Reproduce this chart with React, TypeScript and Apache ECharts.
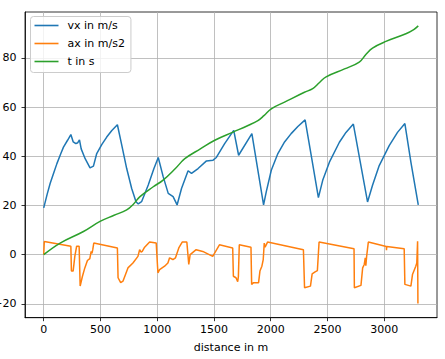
import React, { useEffect, useRef } from "react";
import * as echarts from "echarts";

// vx in m/s: distance (m) and value
const vxDist = [0, 30, 57, 90, 116, 150, 174, 210, 239, 260, 283, 300, 315, 330, 365, 408, 438, 467, 511, 555, 600, 649, 687, 731, 775, 813, 833, 862, 921, 971, 1009, 1053, 1097, 1140, 1175, 1214, 1272, 1302, 1360, 1434, 1492, 1521, 1594, 1674, 1717, 1834, 1887, 1937, 1961, 2005, 2063, 2122, 2180, 2239, 2303, 2362, 2420, 2458, 2517, 2605, 2663, 2728, 2789, 2853, 2897, 2956, 3044, 3117, 3182, 3235, 3300];
const vxVals = [19, 24.5, 29, 33.5, 37, 41, 43.7, 46.5, 48.8, 45.8, 45.1, 45.5, 46.7, 43, 39, 35.3, 36, 41.1, 44.7, 47.8, 50.5, 52.8, 44.6, 35, 26.9, 21.5, 20.6, 21.5, 28.3, 35, 39.5, 31.6, 24.9, 23.6, 20.2, 26.9, 34.1, 33, 35, 38.1, 38.4, 39.5, 45.1, 50.5, 40.4, 49.2, 34.3, 20.2, 25.6, 34.3, 41.1, 45.8, 49.2, 52.1, 54.8, 38.9, 23.2, 30.2, 37.6, 45.7, 49.7, 53.1, 37.6, 21.4, 28.2, 36.2, 44.3, 49.7, 53.3, 37.6, 20.2];

// ax in m/s2
const axDist = [0, 5, 239, 244, 259, 274, 290, 312, 321, 340, 362, 385, 406, 418, 425, 432, 441, 649, 655, 678, 698, 742, 786, 830, 845, 858, 868, 889, 933, 991, 1006, 1021, 1065, 1094, 1109, 1138, 1161, 1190, 1220, 1261, 1278, 1290, 1343, 1401, 1489, 1548, 1665, 1671, 1694, 1709, 1715, 1723, 1826, 1832, 1849, 1893, 1905, 1922, 1934, 1943, 1950, 1972, 2288, 2298, 2350, 2365, 2391, 2411, 2426, 2734, 2737, 2795, 2810, 2824, 2833, 2838, 2845, 2860, 3018, 3020, 3022, 3176, 3182, 3235, 3249, 3278, 3287, 3294, 3297];
const axVals = [0, 5.3, 3.4, -6.7, -6.7, -0.7, 3.4, 3.4, -12.8, -9, -5.4, -2.4, -1.6, 1.3, 0.5, 2, 4.7, 2.7, -9.4, -11.4, -10.8, -5.4, -3.4, -0.7, 2, 1, 1.3, 3, 5.1, 4.7, -7.4, -6.1, -4.7, -3.4, -1.3, -2, -1.3, 2.7, 5.1, 5.1, -4, 0, 2, 1.3, -0.7, 4, 2.7, -8.8, -9.4, -11, -9, 4, 3, -12.1, -11.4, -11.4, -6.7, -4.7, -2, 4.7, 3, 5.1, 2, -13.5, -12.8, -7.8, -7, -6.5, 5.1, 2.4, -13.5, -12.5, -5.4, -4, -1.3, -4.5, -0.7, 5.1, 3.3, 1.8, 3.3, 2.4, -12.1, -12.8, -8.1, -4.7, -3.4, 5.4, -19.9];

// t in s
const tDist = [0, 145, 350, 496, 620, 731, 790, 848, 965, 1052, 1160, 1243, 1380, 1507, 1668, 1800, 1887, 1940, 2005, 2122, 2297, 2370, 2430, 2488, 2650, 2780, 2840, 2897, 3015, 3191, 3260, 3300];
const tVals = [0, 4.7, 9.4, 13.5, 16, 18.2, 20.5, 23.6, 27.6, 30.3, 35, 39, 43, 46.5, 49.8, 52.5, 54.5, 56.5, 59.3, 62, 66, 67.5, 70, 72.3, 75.5, 78.3, 81.5, 84, 86.7, 89.8, 91.5, 93];

const xTicks = [0, 500, 1000, 1500, 2000, 2500, 3000];
const yTicks = [-20, 0, 20, 40, 60, 80];

const seriesNames = ["vx in m/s", "ax in m/s2", "t in s"];
const colors = ["#1f77b4", "#ff7f0e", "#2ca02c"];

const zip = (xs: number[], ys: number[]) => xs.map((x, i) => [x, ys[i]]);

export default function App() {
  const ref = useRef<HTMLDivElement>(null);
  useEffect(() => {
    if (!ref.current) return;
    const chart = echarts.init(ref.current, null, { renderer: "svg" });
    const font = "DejaVu Sans";
    const datasets = [zip(vxDist, vxVals), zip(axDist, axVals), zip(tDist, tVals)];
    const smoothing = [0, 0, 0.4];
    chart.setOption({
      animation: false,
      backgroundColor: "#ffffff",
      grid: {
        left: 25,
        right: 8,
        top: 12,
        bottom: 41.3,
        show: true,
        borderColor: "#000",
        borderWidth: 0.8,
        containLabel: false,
        outerBoundsMode: "none",
      },
      legend: {
        orient: "vertical",
        left: 30.5,
        top: 16.5,
        icon: "rect",
        itemWidth: 24,
        itemHeight: 1.6,
        itemGap: 6,
        padding: [3, 6, 5, 4],
        backgroundColor: "rgba(255,255,255,0.8)",
        borderColor: "#cccccc",
        borderWidth: 1,
        borderRadius: 3,
        textStyle: { fontSize: 11, color: "#000", fontFamily: font, padding: [0, 0, 0, 4], lineHeight: 12 },
        data: seriesNames,
      },
      xAxis: {
        type: "value",
        min: -165,
        max: 3465,
        splitNumber: 7,
        name: "distance in m",
        nameLocation: "middle",
        nameGap: 24,
        nameTextStyle: { fontSize: 11, color: "#000", fontFamily: font },
        axisLine: { show: true, onZero: false, lineStyle: { color: "#000", width: 0.8 } },
        axisTick: { show: true, length: 3.5, lineStyle: { color: "#000", width: 0.8 }, customValues: xTicks },
        axisLabel: {
          fontSize: 11,
          color: "#000",
          fontFamily: font,
          margin: 6,
          customValues: xTicks,
          formatter: (v: number) => String(v),
        },
        splitLine: { show: true, lineStyle: { color: "#b0b0b0", width: 0.8 } },
      },
      yAxis: {
        type: "value",
        min: -25.65,
        max: 98.65,
        splitNumber: 6,
        axisLine: { show: true, onZero: false, lineStyle: { color: "#000", width: 0.8 } },
        axisTick: { show: true, length: 3.5, lineStyle: { color: "#000", width: 0.8 }, customValues: yTicks },
        axisLabel: {
          fontSize: 11,
          color: "#000",
          fontFamily: font,
          margin: 8.5,
          customValues: yTicks,
          formatter: (v: number) => String(v).replace("-", "\u2212"),
        },
        splitLine: { show: true, lineStyle: { color: "#b0b0b0", width: 0.8 } },
      },
      series: seriesNames.map((name, i) => ({
        name,
        type: "line",
        data: datasets[i],
        symbol: "none",
        showSymbol: false,
        smooth: smoothing[i],
        lineStyle: { color: colors[i], width: 1.5 },
        itemStyle: { color: colors[i] },
        emphasis: { disabled: true },
      })),
    });
    return () => chart.dispose();
  }, []);
  return <div ref={ref} style={{ position: "fixed", left: 0, top: 0, width: 445, height: 359 }} />;
}
